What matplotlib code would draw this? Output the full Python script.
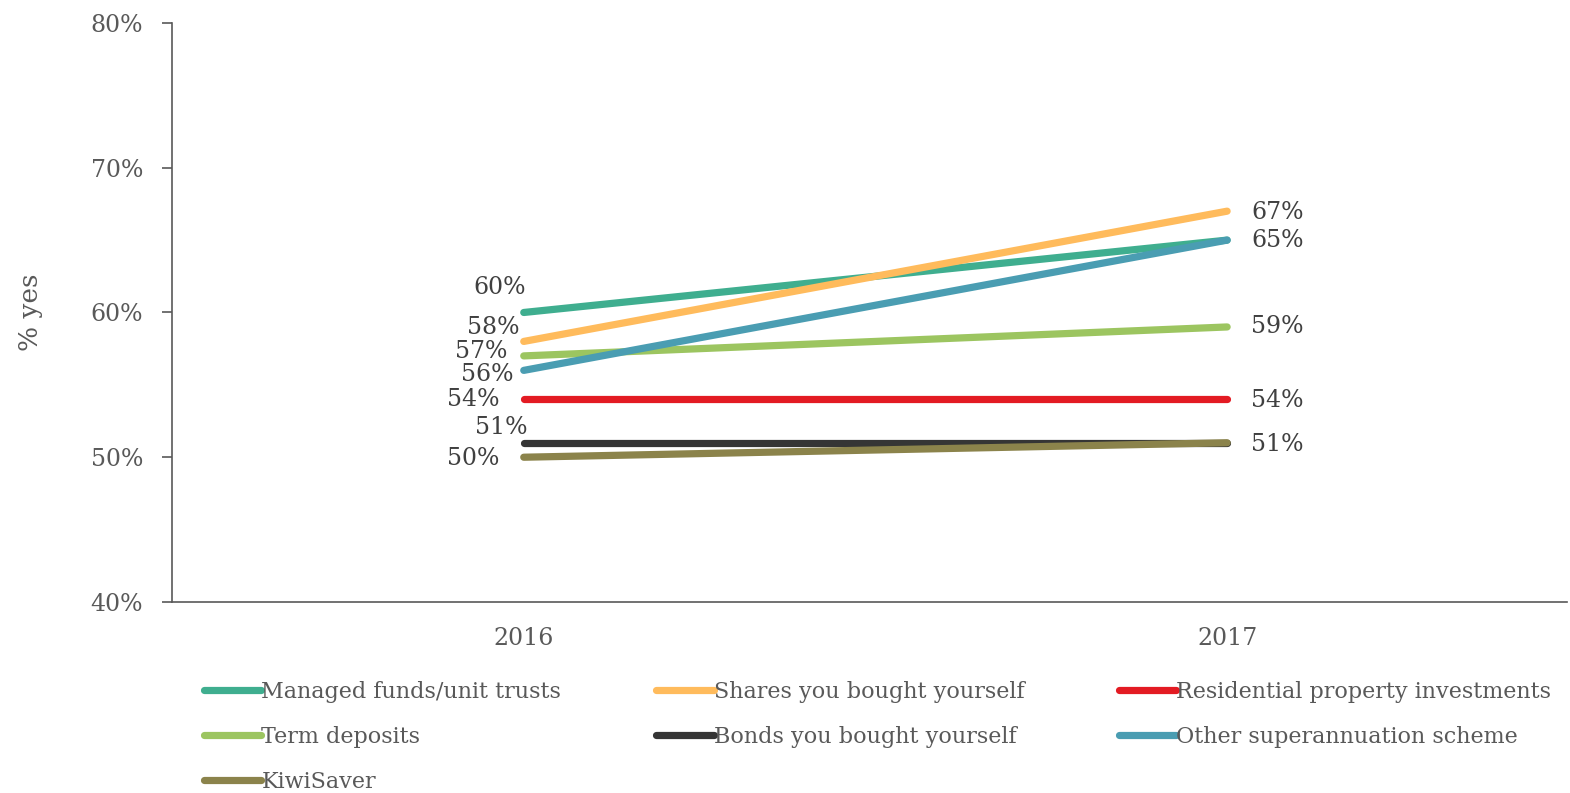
import numpy as np
import matplotlib.pyplot as plt

years = ['2016', '2017']
series = ['Managed funds/unit trusts', 'Shares you bought yourself',
          'Residential property investments', 'Term deposits',
          'Bonds you bought yourself', 'Other superannuation scheme', 'KiwiSaver']
values_2016 = [60, 58, 54, 57, 51, 56, 50]
values_2017 = [65, 67, 54, 59, 51, 65, 51]
colors = ['#3fae8f', '#ffbb5c', '#e31b23', '#9cc560', '#353535', '#4a9db2', '#8b834b']

# label offsets (pixels) for the data labels, by series index
left_off = [(2, 25), (-4, 14), (-24, 0), (-16, 4), (4, 15), (-10, -4), (-24, -1)]
right_series = [1, 5, 3, 2, 6]
right_off = {1: (24, -1), 5: (24, 0), 3: (24, 0), 2: (24, -1), 6: (24, -2)}

plt.rcParams['font.family'] = 'DejaVu Serif'
fig = plt.figure(figsize=(15.7, 7.93), dpi=100)
ax = fig.add_axes([0.1096, 0.2409, 0.8884, 0.7301])

x = np.arange(len(years))
for i, name in enumerate(series):
    ax.plot(x, [values_2016[i], values_2017[i]], color=colors[i], lw=5.2,
            solid_capstyle='round', label=name)
    dx, dy = left_off[i]
    ax.annotate(f'{values_2016[i]}%', (x[0], values_2016[i]), xytext=(dx, dy),
                textcoords='offset pixels', ha='right', va='center',
                fontsize=17, color='#404040')
for i in right_series:
    dx, dy = right_off[i]
    ax.annotate(f'{values_2017[i]}%', (x[1], values_2017[i]), xytext=(dx, dy),
                textcoords='offset pixels', ha='left', va='center',
                fontsize=17, color='#404040')

ax.set_xlim(-0.5, 1.483)
ax.set_ylim(40, 80)
ax.set_xticks(x)
ax.set_xticklabels(years)
ax.set_yticks([40, 50, 60, 70, 80])
ax.set_yticklabels([f'{v}%' for v in [40, 50, 60, 70, 80]])
ax.tick_params(axis='x', length=0, pad=18, labelsize=17, labelcolor='#595959')
ax.tick_params(axis='y', length=7, width=1.2, color='#595959', pad=14,
               labelsize=17, labelcolor='#595959')
for s in ['top', 'right']:
    ax.spines[s].set_visible(False)
for s in ['left', 'bottom']:
    ax.spines[s].set_color('#595959')
    ax.spines[s].set_linewidth(1.2)
ax.set_ylabel('% yes', fontsize=19, color='#595959', labelpad=34)

handles, labels = ax.get_legend_handles_labels()
order = [0, 3, 6, 1, 4, 2, 5]
fig.legend([handles[k] for k in order], [labels[k] for k in order],
           loc='upper left', bbox_to_anchor=(0.117, 0.167), ncol=3,
           frameon=False, fontsize=16, handlelength=2.6, handletextpad=0.0,
           columnspacing=4.25, labelspacing=1.05, labelcolor='#595959')

fig.savefig('out.png', dpi=100)
